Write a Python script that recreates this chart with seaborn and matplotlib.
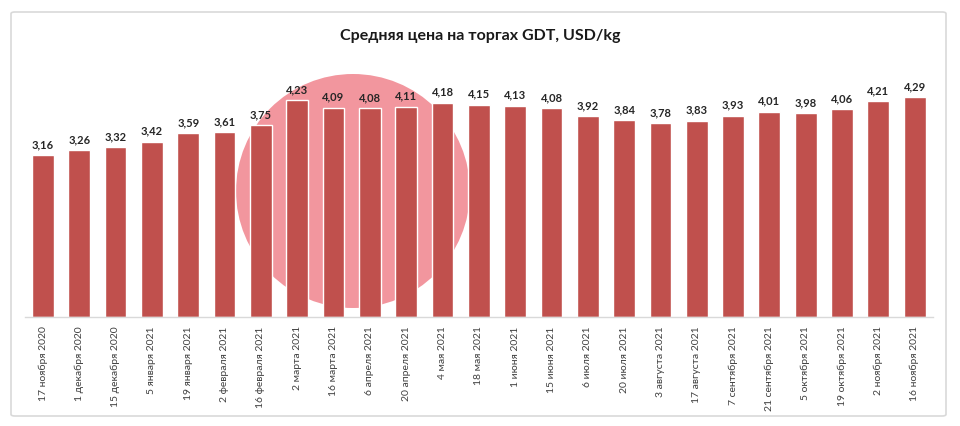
import matplotlib
matplotlib.use("Agg")
import matplotlib.pyplot as plt
import seaborn as sns
import pandas as pd
from matplotlib.patches import FancyBboxPatch, Ellipse

dates = ["17 ноября 2020", "1 декабря 2020", "15 декабря 2020", "5 января 2021",
         "19 января 2021", "2 февраля 2021", "16 февраля 2021", "2 марта 2021",
         "16 марта 2021", "6 апреля 2021", "20 апреля 2021", "4 мая 2021",
         "18 мая 2021", "1 июня 2021", "15 июня 2021", "6 июля 2021",
         "20 июля 2021", "3 августа 2021", "17 августа 2021", "7 сентября 2021",
         "21 сентября 2021", "5 октября 2021", "19 октября 2021", "2 ноября 2021",
         "16 ноября 2021"]
prices = [3.16, 3.26, 3.32, 3.42, 3.59, 3.61, 3.75, 4.23, 4.09, 4.08, 4.11, 4.18,
          4.15, 4.13, 4.08, 3.92, 3.84, 3.78, 3.83, 3.93, 4.01, 3.98, 4.06, 4.21,
          4.29]

df = pd.DataFrame({"date": dates, "price": prices})

sns.set_style("white")
plt.rcParams["font.family"] = ["Lato", "DejaVu Sans"]

W, H = 960, 427
fig = plt.figure(figsize=(W / 100, H / 100), dpi=100)

# outer chart frame
frame = FancyBboxPatch((11 / W, 10 / H), 935 / W, 404 / H,
                       boxstyle="round,pad=0,rounding_size=0.004",
                       transform=fig.transFigure, facecolor="white",
                       edgecolor="#d9d9d9", linewidth=1.2, zorder=-2)
fig.patches.append(frame)

# watermark circle behind the bars
r = 117
wm = Ellipse((353 / W, (H - 192) / H), 2 * r / W, 2 * r / H,
             transform=fig.transFigure, facecolor="#f2969e", edgecolor="none",
             zorder=-1)
fig.patches.append(wm)

ax = fig.add_axes([24.8 / W, 109 / H, 908 / W, 256 / H])
ax.set_facecolor("none")

sns.barplot(data=df, x="date", y="price", color="#c0504d", saturation=1,
            width=0.6, ax=ax, zorder=2)

for i, v in enumerate(prices):
    ax.text(i, v + 0.12, f"{v:.2f}".replace(".", ","), ha="center", va="bottom",
            fontsize=8, fontweight="bold", color="#262626")

ax.set_ylim(0, 5)
ax.set_xlim(-0.5, len(dates) - 0.5)
ax.set_xlabel("")
ax.set_ylabel("")
ax.set_yticks([])
ax.tick_params(axis="x", labelrotation=90, labelsize=7.5, length=0, pad=6,
               colors="#404040")
for s in ["top", "right", "left"]:
    ax.spines[s].set_visible(False)
ax.spines["bottom"].set_color("#d9d9d9")
ax.spines["bottom"].set_linewidth(1)

fig.text(0.5, 1 - 36 / H, "Средняя цена на торгах GDT, USD/kg", ha="center",
         va="center", fontsize=11.5, fontweight="bold", color="#1a1a1a")

fig.savefig("out.png", dpi=100)
